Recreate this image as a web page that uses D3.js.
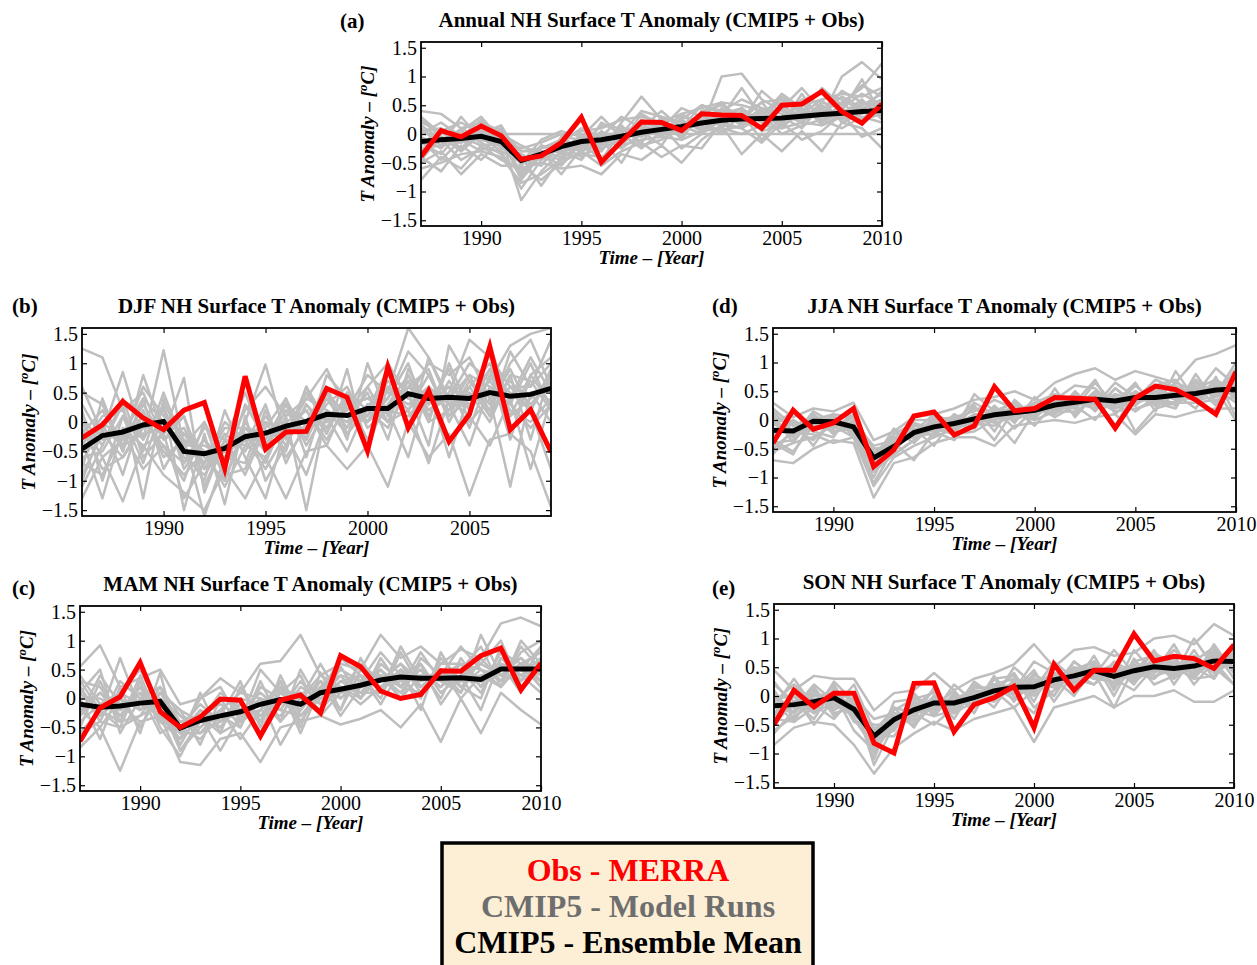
<!DOCTYPE html>
<html lang="en">
<head>
<meta charset="UTF-8">
<script src="https://d3js.org/d3.v7.min.js"></script>
<title>NH Surface T Anomaly (CMIP5 + Obs)</title>
<style>
    body { margin: 0; background: #fff; }
    svg text { font-family: "Liberation Serif", "Times New Roman", serif; fill: #000; }
    .tick text { font-size: 20px; }
    .tick line { stroke: #000; stroke-width: 1.2px; }
    .title { font-size: 21px; font-weight: bold; }
    .axlabel { font-size: 19px; font-weight: bold; font-style: italic; }
    .legend text { font-size: 32px; font-weight: bold; }
</style>
</head>
<body>
<div id="chart"></div>
<script>
// ---- data ----
const yearsMain = [1987,1988,1989,1990,1991,1992,1993,1994,1995,1996,1997,1998,1999,2000,2001,2002,2003,2004,2005,2006,2007,2008,2009,2010];
const yearsDJF  = [1986,1987,1988,1989,1990,1991,1992,1993,1994,1995,1996,1997,1998,1999,2000,2001,2002,2003,2004,2005,2006,2007,2008,2009];
const yTicks = [-1.5,-1,-0.5,0,0.5,1,1.5];
const xTicksMain = [1990,1995,2000,2005,2010];
const xTicksDJF = [1990,1995,2000,2005];

// (a) annual
const obsAnnual  = [-0.39,0.06,-0.05,0.14,-0.03,-0.44,-0.38,-0.15,0.29,-0.49,-0.13,0.21,0.20,0.06,0.35,0.33,0.32,0.10,0.50,0.52,0.74,0.39,0.19,0.52];
const meanAnnual = [-0.13,-0.10,-0.08,-0.04,-0.13,-0.46,-0.35,-0.22,-0.13,-0.10,-0.04,0.03,0.08,0.13,0.19,0.24,0.26,0.27,0.28,0.31,0.34,0.36,0.39,0.41];
const runsAnnual = [
    [0.40,0.35,0.10,0.20,0.05,-0.30,-0.25,-0.10,0.05,0.10,0.25,0.30,0.20,0.35,0.45,0.55,0.50,0.40,0.55,0.50,0.60,0.70,0.65,0.80],
    [-0.60,-0.50,-0.35,-0.30,-0.40,-0.85,-0.70,-0.45,-0.35,-0.40,-0.20,-0.10,-0.05,-0.10,0.05,0.10,0.00,0.15,0.10,0.20,0.15,0.30,0.25,0.35],
    [-0.20,0.10,-0.15,0.15,-0.05,-1.15,-0.65,-0.30,-0.20,0.15,0.10,-0.15,0.30,0.20,0.10,1.00,1.05,0.60,0.40,0.25,0.55,0.45,0.70,0.50],
    [0.10,-0.20,0.30,-0.10,-0.20,-0.40,-0.90,-0.40,0.00,-0.30,0.20,0.65,0.25,-0.05,0.40,0.30,0.80,0.30,0.70,0.45,0.30,1.00,1.25,0.95],
    [-0.80,-0.40,-0.60,-0.20,-0.45,-0.60,-0.50,-0.60,-0.55,-0.70,-0.35,-0.45,-0.20,-0.50,-0.10,0.15,-0.35,0.00,-0.30,0.05,-0.30,0.20,0.10,-0.25],
    [-0.40,-0.65,-0.20,-0.45,-0.10,-0.75,-0.30,-0.70,-0.25,-0.10,-0.50,0.05,-0.20,0.30,0.20,0.00,0.35,-0.10,0.30,0.10,0.50,0.25,0.45,0.60],
    [0.20,0.05,0.20,0.00,0.10,-0.50,-0.10,0.05,-0.05,0.30,-0.05,0.25,0.10,0.45,0.30,0.55,0.20,0.75,0.45,0.80,0.40,0.55,0.80,1.23],
    [-0.30,-0.10,-0.45,-0.25,-0.30,-0.95,-0.45,-0.20,-0.40,-0.20,0.00,-0.25,0.05,0.05,0.20,0.05,0.15,0.35,0.00,0.15,0.25,0.10,0.30,0.20],
    [0.00,0.20,-0.05,0.25,-0.20,-0.35,-0.55,-0.15,0.10,-0.05,0.30,0.10,0.40,0.10,0.50,0.40,0.60,0.45,0.20,0.60,0.70,0.60,0.40,0.75],
    [-0.50,-0.30,-0.70,-0.35,-0.55,-0.55,-0.80,-0.50,-0.30,-0.55,-0.30,-0.15,-0.40,-0.20,-0.25,0.20,0.10,-0.15,0.20,-0.10,0.05,0.35,-0.05,0.10],
    [0,0,0,0,0,0,0,0,0,0,0,0,0,0,0,0,0,0,0,0,0,0,0,0],
    [0.25,-0.05,-0.30,0.05,0.00,-0.20,-0.35,-0.55,-0.15,-0.45,0.05,0.15,0.05,0.25,0.50,0.35,0.45,0.20,0.65,0.40,0.35,0.75,0.55,0.45],
    [-0.15,-0.35,0.05,-0.15,-0.35,-0.70,-0.20,-0.30,-0.45,0.00,-0.15,0.35,0.15,-0.25,0.00,0.45,0.25,0.55,0.15,0.70,0.20,0.40,0.95,0.30],
    [-0.05,-0.25,0.10,-0.10,0.05,-0.55,-0.20,-0.35,0.00,-0.20,0.10,-0.05,0.20,0.05,0.30,0.15,0.40,0.20,0.45,0.25,0.50,0.30,0.55,0.35],
    [-0.35,0.05,-0.25,0.10,-0.25,-0.40,-0.45,-0.10,-0.25,0.05,-0.20,0.15,-0.05,0.25,0.05,0.35,0.15,0.40,0.10,0.45,0.20,0.55,0.25,0.60],
    [0.15,-0.10,-0.05,-0.20,-0.15,-0.65,-0.40,-0.25,-0.05,-0.25,-0.10,0.20,0.10,0.05,0.25,0.30,0.20,0.45,0.35,0.20,0.45,0.25,0.50,0.70],
    [-0.25,-0.20,0.00,0.05,-0.10,-0.30,-0.30,-0.40,-0.20,0.00,0.00,-0.05,0.25,0.20,0.10,0.20,0.35,0.10,0.30,0.40,0.25,0.45,0.20,0.40],
    [-0.45,-0.05,-0.15,-0.05,-0.30,-0.50,-0.25,-0.15,-0.30,-0.15,0.05,0.10,0.00,0.35,0.15,0.40,0.30,0.25,0.50,0.30,0.40,0.65,0.45,0.55],
    [0.05,0.10,-0.30,0.00,0.15,-0.45,-0.55,-0.05,-0.10,-0.05,-0.25,0.00,0.15,0.00,0.35,0.15,0.10,0.30,0.25,0.55,0.15,0.35,0.60,0.25],
    [-0.10,-0.45,-0.10,-0.30,-0.05,-0.80,-0.35,-0.45,-0.15,-0.30,0.15,-0.20,-0.10,0.15,0.00,0.25,0.45,0.05,0.15,0.35,0.60,0.20,0.35,0.50],
    [0.30,0.00,0.05,0.30,-0.10,-0.25,-0.15,0.00,-0.35,0.20,0.00,0.40,0.30,-0.10,0.40,0.50,0.30,0.55,0.60,0.35,0.80,0.50,0.85,0.65]
];

// (b) DJF
const obsDJF  = [-0.27,-0.05,0.35,0.07,-0.13,0.20,0.33,-0.79,0.78,-0.46,-0.17,-0.16,0.57,0.42,-0.49,0.94,-0.10,0.53,-0.33,0.13,1.28,-0.13,0.21,-0.51];
const meanDJF = [-0.46,-0.23,-0.17,-0.05,0.01,-0.50,-0.54,-0.45,-0.25,-0.19,-0.07,0.01,0.13,0.11,0.23,0.23,0.48,0.40,0.42,0.40,0.50,0.44,0.47,0.57];
const runsDJF = [
    [1.25,1.10,0.20,0.50,-0.30,0.10,-0.80,-0.50,0.20,0.60,0.10,0.40,0.90,0.20,0.80,0.50,1.60,1.10,0.40,1.00,0.70,1.30,1.50,1.60],
    [-1.30,-0.60,-1.35,-0.40,-0.90,-1.20,-1.50,-0.80,-1.30,-0.60,-1.30,-0.50,-0.40,-0.80,-0.40,-1.10,0.00,-0.60,-0.20,-1.25,-0.30,-0.20,-0.50,-1.45],
    [0.60,-0.20,0.85,-0.30,1.22,-0.40,0.00,-1.00,0.00,0.98,-0.30,0.60,-0.20,0.50,0.20,0.90,-0.10,1.10,0.30,0.60,0.10,1.20,0.60,1.40],
    [-0.80,0.40,-0.50,0.80,-0.20,0.75,-1.20,-0.30,-0.90,-0.10,0.40,-0.60,0.50,-0.30,1.00,0.10,0.70,0.00,1.00,0.20,1.30,0.30,1.00,0.20],
    [0.20,-1.00,0.10,-0.70,0.30,-1.50,-0.20,-1.40,0.10,-1.00,-0.40,0.30,-0.20,0.90,-0.50,0.60,0.20,0.60,-0.60,0.50,0.00,0.80,-0.30,0.90],
    [-0.50,0.00,-0.90,0.20,-0.60,-0.30,-1.60,-0.60,-0.20,-0.70,0.10,-1.50,0.20,0.00,0.50,-0.30,0.90,0.30,0.60,-0.10,0.80,0.50,0.20,-0.80],
    [-1.10,-0.40,0.30,-1.30,0.40,-0.50,-1.00,0.20,-0.60,-1.30,-0.10,0.20,-0.40,0.40,0.10,0.80,0.50,-0.40,1.30,0.70,0.20,1.00,1.40,0.60],
    [0.00,-0.60,-0.30,0.10,-0.50,-0.90,-0.50,-1.10,-0.40,0.30,-0.70,0.00,0.60,-0.20,0.30,0.40,1.20,0.80,0.10,0.40,0.90,-0.30,0.80,1.10],
    [-0.30,-1.30,-0.10,-0.40,-0.20,0.10,-1.10,-0.30,0.50,-0.40,0.20,-0.20,0.30,0.60,-0.10,0.20,-0.60,0.60,0.30,-0.40,0.60,0.30,-0.10,0.30],
    [-0.90,-0.20,-0.60,-0.10,0.20,-0.70,-0.30,-0.90,-0.80,0.00,-0.50,0.60,0.00,0.20,0.60,1.00,0.40,1.00,0.80,1.10,0.40,-1.10,0.50,0.00],
    [0.50,0.30,-0.50,0.40,-0.80,-0.20,-0.70,-0.10,-0.10,-0.50,0.40,-0.30,0.80,0.40,0.00,0.30,0.80,0.20,0.50,1.40,1.10,0.60,0.20,0.80],
    [-0.70,-0.90,-0.20,-0.80,-0.40,-1.00,0.00,-0.70,-0.30,-0.80,-0.20,-0.90,0.10,-0.50,0.30,0.00,0.20,-0.70,0.40,0.10,-0.40,0.40,-0.80,0.40],
    [-0.20,0.20,-0.40,0.30,-0.30,-0.10,-0.80,-0.20,-0.50,0.10,-0.40,0.30,-0.10,0.50,0.00,0.60,0.20,0.80,0.10,0.70,0.30,0.90,0.20,0.90],
    [-0.60,-0.50,0.10,-0.30,0.30,-0.80,-0.30,-0.70,0.00,-0.50,0.20,-0.30,0.40,-0.10,0.60,0.00,0.80,0.10,0.70,0.20,0.90,0.10,0.80,0.30],
    [0.30,-0.30,-0.20,0.40,0.00,-0.60,-0.90,-0.40,-0.20,-0.30,0.30,0.00,0.10,0.30,0.40,0.50,0.30,0.60,0.20,0.80,0.60,0.40,1.10,0.50],
    [-1.00,-0.10,-0.40,-0.20,-0.10,-0.30,-0.60,-1.00,-0.10,-0.20,-0.20,0.40,0.20,-0.20,0.20,-0.10,0.60,0.30,0.90,0.00,0.40,0.70,0.30,0.70],
    [-0.40,0.10,0.20,-0.50,0.50,-0.40,-0.40,-0.60,-0.70,0.20,-0.60,-0.10,0.50,0.10,0.00,0.40,1.00,0.00,0.20,0.50,0.20,0.60,0.60,1.00],
    [-0.10,-0.80,-0.60,0.00,-0.40,-0.70,-0.10,-0.30,-0.40,-0.60,0.00,0.20,-0.30,0.30,0.40,0.20,0.10,0.50,0.60,0.30,0.70,0.20,0.00,0.40],
    [-0.70,0.00,-0.30,0.60,0.10,-0.20,-0.50,-0.80,0.30,-0.30,0.30,-0.40,0.20,0.00,0.10,0.70,0.40,0.20,0.40,0.80,0.10,0.80,0.70,0.20],
    [0.10,-0.40,0.40,-0.60,-0.20,-1.30,-0.70,0.00,-0.30,0.00,-0.20,0.50,0.00,0.40,-0.30,0.30,0.60,0.90,0.00,0.60,1.00,0.10,0.40,0.70]
];

// (d) JJA
const obsJJA  = [-0.40,0.17,-0.16,-0.05,0.20,-0.81,-0.52,0.07,0.14,-0.26,-0.10,0.58,0.16,0.20,0.39,0.38,0.36,-0.14,0.38,0.59,0.53,0.35,0.10,0.84];
const meanJJA = [-0.18,-0.19,-0.02,-0.03,-0.12,-0.66,-0.46,-0.22,-0.12,-0.06,0.02,0.09,0.13,0.17,0.26,0.31,0.36,0.33,0.39,0.39,0.43,0.46,0.52,0.54];
const runsJJA = [
    [0.30,0.05,0.20,0.15,0.30,-0.35,-0.20,0.05,0.10,0.20,0.35,0.40,0.50,0.35,0.65,0.80,0.90,0.70,0.85,0.75,0.65,1.05,1.15,1.30],
    [-0.70,-0.75,-0.50,-0.35,-0.40,-1.35,-0.75,-0.65,-0.40,-0.30,-0.30,-0.45,-0.10,-0.05,0.00,-0.05,0.05,0.10,-0.25,0.10,0.05,0.15,0.20,0.20],
    [-0.20,0.00,-0.45,0.05,-0.20,-1.00,-0.30,-0.30,0.05,-0.15,0.25,-0.20,0.35,0.05,0.40,0.20,0.65,0.25,0.60,0.30,0.20,0.80,0.30,0.70],
    [0.10,-0.40,0.10,-0.25,0.00,-0.50,-0.55,-0.05,-0.30,0.10,-0.10,0.25,-0.05,0.40,0.10,0.50,0.15,0.55,0.25,0.60,0.70,0.30,0.60,0.40],
    [-0.50,-0.20,-0.25,-0.40,-0.30,-0.80,-0.40,-0.70,-0.20,-0.35,0.05,-0.35,0.20,-0.10,0.30,0.10,0.40,-0.10,0.50,0.25,0.45,0.20,0.75,0.05],
    [0.20,-0.10,0.00,0.10,-0.30,-0.60,-0.25,-0.20,0.10,-0.05,0.30,0.10,0.05,0.30,0.45,0.35,0.25,0.65,0.40,0.55,0.35,0.70,0.45,1.00],
    [-0.35,-0.55,-0.10,-0.15,0.10,-0.90,-0.60,-0.35,-0.15,-0.25,-0.20,0.00,-0.40,0.15,0.20,0.45,0.30,0.40,0.15,0.40,0.50,0.35,0.55,-0.02],
    [0.00,-0.30,0.15,-0.05,-0.05,-0.45,-0.35,0.00,0.00,0.05,0.15,0.35,0.20,0.10,0.35,0.60,0.55,0.20,0.35,0.70,0.55,0.45,0.90,0.60],
    [-0.60,-0.15,-0.35,0.00,-0.20,-1.10,-0.50,-0.15,-0.45,0.05,-0.05,-0.10,0.15,0.25,0.05,0.25,0.00,0.45,-0.20,0.20,0.30,0.60,0.25,0.80],
    [-0.10,0.15,-0.20,-0.30,0.20,-0.70,-0.15,-0.40,-0.05,-0.20,0.45,0.15,0.30,0.00,0.55,0.05,0.45,0.30,0.65,0.15,0.85,0.35,0.40,0.55],
    [-0.40,-0.60,0.05,-0.20,-0.10,-0.85,-0.45,-0.25,-0.25,0.00,-0.15,0.20,-0.15,0.20,0.25,0.30,0.70,0.10,0.45,0.45,0.25,0.55,0.70,0.35],
    [-0.05,-0.30,0.10,-0.15,0.05,-0.75,-0.35,-0.30,0.00,-0.15,0.10,0.00,0.25,0.10,0.35,0.25,0.45,0.25,0.50,0.30,0.55,0.40,0.65,0.45],
    [-0.30,-0.05,-0.10,0.05,-0.20,-0.55,-0.55,-0.15,-0.20,0.05,-0.05,0.20,0.05,0.25,0.15,0.40,0.30,0.40,0.30,0.50,0.35,0.55,0.45,0.65],
    [-0.15,-0.25,-0.15,-0.10,-0.05,-0.90,-0.40,-0.10,-0.15,-0.10,0.10,0.05,0.15,0.30,0.20,0.25,0.40,0.35,0.45,0.25,0.45,0.50,0.60,0.70],
    [0.05,-0.10,0.05,0.00,-0.25,-0.60,-0.30,-0.25,-0.05,0.00,0.00,0.15,0.20,0.05,0.30,0.40,0.25,0.45,0.35,0.45,0.60,0.40,0.50,0.45],
    [-0.40,-0.35,-0.05,-0.20,-0.15,-0.70,-0.60,-0.35,-0.10,-0.20,0.05,-0.05,0.05,0.20,0.10,0.35,0.40,0.20,0.40,0.35,0.30,0.65,0.40,0.90],
    [-0.25,0.00,-0.20,0.10,0.05,-0.50,-0.45,-0.20,-0.25,0.10,-0.10,0.15,0.30,0.10,0.25,0.20,0.50,0.30,0.25,0.55,0.40,0.35,0.70,0.50],
    [0.15,-0.20,0.00,-0.05,-0.10,-0.80,-0.25,-0.05,-0.15,-0.05,0.20,0.10,0.00,0.15,0.40,0.30,0.20,0.55,0.30,0.40,0.65,0.50,0.55,0.30],
    [-0.55,-0.40,-0.30,-0.10,-0.30,-1.15,-0.65,-0.45,-0.30,-0.15,-0.05,0.00,0.10,0.00,0.15,0.15,0.35,0.15,0.20,0.30,0.30,0.30,0.35,0.40]
];

// (c) MAM
const obsMAM  = [-0.74,-0.16,0.03,0.62,-0.23,-0.50,-0.32,-0.01,-0.03,-0.65,-0.03,0.06,-0.25,0.74,0.55,0.13,0.00,0.07,0.48,0.47,0.74,0.87,0.15,0.61];
const meanMAM = [-0.10,-0.15,-0.13,-0.08,-0.05,-0.51,-0.38,-0.30,-0.23,-0.10,-0.02,-0.10,0.10,0.16,0.23,0.32,0.37,0.35,0.35,0.36,0.33,0.51,0.51,0.51];
const runsMAM = [
    [0.55,0.92,0.20,0.35,0.50,-0.10,0.00,0.35,0.10,0.60,0.65,1.10,0.40,0.60,0.50,1.10,0.70,0.90,0.60,0.85,0.70,1.30,1.40,1.25],
    [-0.85,-0.50,-1.25,-0.40,-0.30,-1.10,-1.15,-0.70,-0.60,-1.10,-0.50,-0.40,-0.30,-0.45,-0.35,-0.20,-0.50,-0.10,-0.75,0.00,-0.60,0.10,-0.20,-0.45],
    [0.20,-0.30,0.70,-0.20,0.10,-0.20,-0.80,0.00,-0.50,0.30,-0.40,0.50,-0.10,0.55,0.00,0.70,0.20,0.80,0.30,0.50,0.90,0.20,1.00,0.60],
    [-0.50,0.30,-0.40,0.40,-0.40,-0.70,0.10,-0.60,0.20,-0.40,0.30,-0.50,0.45,-0.20,0.70,0.10,0.90,0.30,0.50,0.10,1.10,0.40,0.60,0.20],
    [0.00,-0.70,0.20,-0.60,0.45,-0.90,-0.50,-0.20,-0.70,-0.20,-0.30,0.20,0.00,0.30,0.40,-0.10,0.50,-0.20,0.80,0.20,0.00,0.90,0.30,0.90],
    [-0.30,0.10,-0.20,0.10,-0.60,-0.40,-0.30,-0.90,-0.30,0.00,-0.80,-0.20,0.30,-0.30,0.20,0.50,0.00,0.40,0.20,0.60,0.30,0.60,0.10,0.70],
    [0.40,-0.10,0.10,0.50,-0.20,-0.60,0.00,0.20,-0.40,0.50,0.10,0.40,-0.30,0.10,0.60,0.30,0.60,0.10,0.40,0.90,0.50,0.30,0.80,1.00],
    [-0.60,-0.40,-0.50,-0.30,0.20,-0.30,-0.60,-0.40,0.00,-0.60,0.20,-0.60,0.20,0.40,0.00,0.40,0.10,0.60,-0.10,0.40,-0.20,0.70,0.40,0.10],
    [0.10,0.50,-0.60,0.00,-0.10,-0.80,-0.20,-0.50,-0.10,-0.30,0.00,0.00,0.60,0.00,0.30,0.80,0.40,0.00,0.70,0.30,0.60,1.00,0.20,0.50],
    [-0.20,-0.50,0.00,-0.50,0.10,-0.20,-0.40,0.10,-0.20,0.10,-0.20,0.30,-0.10,0.20,-0.10,0.20,0.30,0.50,0.00,0.70,0.20,0.50,0.70,0.30],
    [0.30,0.20,-0.30,0.20,-0.40,-0.50,-0.70,-0.30,0.30,-0.50,0.40,-0.30,0.10,0.70,0.40,0.00,0.80,0.20,0.50,0.00,0.40,0.20,0.60,0.80],
    [-0.20,0.10,-0.30,0.10,-0.20,-0.60,-0.20,-0.40,-0.10,-0.30,0.10,-0.20,0.20,0.00,0.40,0.20,0.50,0.20,0.50,0.20,0.50,0.40,0.70,0.40],
    [0.10,-0.30,0.00,-0.20,0.10,-0.40,-0.50,-0.20,-0.40,0.00,-0.10,0.10,-0.10,0.30,0.10,0.50,0.20,0.50,0.20,0.50,0.10,0.70,0.40,0.70],
    [-0.40,-0.10,0.10,-0.10,-0.30,-0.70,-0.30,-0.10,-0.30,-0.20,0.20,0.00,0.30,0.10,0.20,0.30,0.60,0.30,0.40,0.30,0.40,0.50,0.50,0.30],
    [0.00,0.00,-0.20,0.20,0.00,-0.30,-0.40,-0.50,0.00,-0.10,-0.20,-0.30,0.00,0.40,0.30,0.20,0.40,0.60,0.10,0.40,0.60,0.40,0.30,0.60],
    [-0.60,-0.20,-0.40,-0.30,-0.10,-0.90,-0.40,-0.30,-0.50,0.20,0.00,-0.10,0.20,-0.20,0.50,0.40,0.20,0.10,0.60,0.60,0.20,0.80,0.60,0.40],
    [0.20,-0.40,0.30,0.00,0.20,-0.50,-0.10,-0.40,-0.20,-0.40,0.10,0.10,-0.20,0.20,0.00,0.60,0.30,0.40,0.30,0.10,0.70,0.30,0.90,0.50],
    [-0.30,0.40,-0.10,-0.40,-0.30,-0.60,-0.60,-0.20,0.10,0.00,-0.40,0.00,0.40,0.20,0.10,0.10,0.50,0.20,0.50,0.30,0.30,0.60,0.50,0.90],
    [0.30,-0.20,-0.50,0.30,-0.50,-1.00,-0.30,-0.60,-0.40,-0.20,0.30,-0.40,0.10,0.50,0.30,0.40,0.00,0.70,0.40,0.60,0.50,0.20,0.60,0.20]
];

// (e) SON
const obsSON  = [-0.50,0.10,-0.19,0.05,0.05,-0.82,-0.99,0.22,0.23,-0.62,-0.15,-0.03,0.17,-0.55,0.55,0.10,0.45,0.45,1.08,0.61,0.69,0.65,0.48,0.89];
const meanSON = [-0.17,-0.15,-0.10,-0.03,-0.23,-0.70,-0.41,-0.24,-0.12,-0.12,-0.03,0.09,0.15,0.16,0.28,0.35,0.44,0.34,0.44,0.51,0.48,0.52,0.61,0.60];
const runsSON = [
    [0.45,0.10,0.35,0.30,0.30,-0.25,0.05,0.10,0.40,0.10,0.30,0.40,0.55,0.90,0.50,0.80,0.85,0.70,0.75,1.00,1.05,0.90,1.25,1.05],
    [-0.85,-0.55,-0.45,-0.50,-0.85,-1.35,-0.90,-0.65,-0.45,-0.60,-0.40,-0.30,-0.20,-0.80,-0.20,-0.10,0.00,-0.20,0.00,0.00,0.10,-0.10,-0.10,0.10],
    [-0.20,0.30,-0.20,0.10,-0.40,-0.90,-0.30,-0.40,0.15,-0.30,0.20,0.05,0.40,-0.10,0.55,0.20,0.70,0.10,0.80,0.40,0.90,0.30,0.70,0.50],
    [0.10,-0.40,0.05,-0.20,0.20,-0.60,-0.60,0.00,-0.20,-0.05,-0.20,0.35,-0.10,0.40,0.00,0.60,0.30,0.50,0.20,0.70,0.30,0.80,0.30,0.90],
    [-0.50,-0.10,-0.30,0.25,-0.10,-1.10,-0.20,-0.55,0.00,-0.30,0.10,-0.20,0.30,0.20,0.20,0.40,0.20,0.60,0.40,0.30,0.60,0.40,0.80,0.30],
    [0.25,-0.20,0.20,-0.10,-0.35,-0.50,-0.50,-0.10,-0.30,0.20,-0.10,0.20,0.10,0.60,0.40,0.10,0.60,0.20,0.60,0.70,0.40,0.60,0.50,0.70],
    [-0.35,0.00,-0.50,-0.05,-0.10,-0.80,-0.40,-0.30,-0.50,-0.20,0.00,-0.10,0.20,0.30,0.00,0.50,0.40,-0.20,0.50,0.30,0.70,0.20,0.60,0.20],
    [0.00,-0.30,0.15,-0.30,-0.20,-0.70,-0.70,-0.20,0.10,-0.40,0.15,0.10,-0.20,0.10,0.60,0.30,0.20,0.50,0.30,0.80,0.20,0.70,0.40,0.60],
    [-0.65,-0.25,0.00,0.05,-0.60,-0.95,-0.10,-0.05,-0.20,0.10,-0.30,0.30,0.00,-0.30,0.30,0.00,0.50,0.30,0.10,0.50,0.50,0.30,0.90,0.40],
    [-0.10,0.20,-0.15,-0.40,0.00,-0.40,-0.30,-0.45,-0.10,-0.15,0.05,-0.05,0.50,0.20,0.15,0.60,0.35,0.80,0.40,0.45,0.80,0.50,0.30,0.80],
    [-0.40,-0.45,-0.20,0.20,-0.40,-0.65,-0.55,0.05,-0.35,-0.25,0.25,0.00,0.10,0.45,-0.10,0.40,0.60,0.00,0.65,0.20,0.35,1.00,0.50,0.20],
    [-0.30,0.05,-0.25,0.10,-0.10,-0.80,-0.30,-0.35,0.00,-0.25,0.05,0.00,0.25,0.05,0.40,0.25,0.55,0.20,0.60,0.40,0.60,0.40,0.75,0.50],
    [0.05,-0.30,0.05,-0.15,-0.35,-0.55,-0.55,-0.10,-0.25,0.00,-0.15,0.20,0.05,0.30,0.15,0.45,0.30,0.50,0.30,0.60,0.35,0.65,0.45,0.75],
    [-0.20,-0.20,-0.05,0.00,-0.15,-1.00,-0.45,-0.20,-0.05,-0.20,0.00,0.15,0.20,0.00,0.30,0.40,0.35,0.40,0.50,0.45,0.55,0.55,0.55,0.65],
    [-0.05,0.00,-0.30,-0.10,-0.30,-0.65,-0.20,-0.30,-0.20,-0.05,0.10,0.05,0.05,0.25,0.20,0.30,0.55,0.30,0.35,0.65,0.40,0.45,0.70,0.45],
    [-0.60,-0.35,-0.15,0.10,-0.25,-0.75,-0.60,-0.15,-0.10,-0.30,-0.10,0.20,0.30,0.10,0.35,0.20,0.45,0.45,0.25,0.50,0.65,0.35,0.60,0.85],
    [0.20,-0.10,0.10,-0.25,0.00,-0.85,-0.35,-0.50,-0.15,-0.05,-0.05,0.00,0.15,0.35,0.25,0.50,0.30,0.25,0.55,0.35,0.45,0.70,0.45,0.60],
    [-0.40,-0.10,-0.40,0.15,-0.45,-0.60,-0.25,-0.05,0.05,-0.15,0.15,0.15,-0.05,0.20,0.40,0.30,0.40,0.55,0.35,0.55,0.30,0.60,0.85,0.40],
    [-0.10,-0.45,0.15,-0.35,-0.05,-1.20,-0.50,-0.25,-0.35,0.05,-0.20,0.30,0.35,-0.20,0.10,0.45,0.60,0.15,0.45,0.75,0.55,0.30,0.35,0.75]
];

const legendItems = ["Obs - MERRA", "CMIP5 - Model Runs", "CMIP5 - Ensemble Mean"];
const legendColors = ["#ff0000", "#6e6e6e", "#000000"];

// ---- layout ----
const width = 1257, height = 965;
const panels = [
    {tag: "(a)", title: "Annual NH Surface T Anomaly (CMIP5 + Obs)", years: yearsMain, xticks: xTicksMain,
     obs: obsAnnual, mean: meanAnnual, runs: runsAnnual, x0: 421, y0: 42, x1: 882, y1: 226, tagX: 340, tagY: 28},
    {tag: "(b)", title: "DJF NH Surface T Anomaly (CMIP5 + Obs)", years: yearsDJF, xticks: xTicksDJF,
     obs: obsDJF, mean: meanDJF, runs: runsDJF, x0: 82, y0: 328, x1: 551, y1: 516, tagX: 12, tagY: 313},
    {tag: "(d)", title: "JJA NH Surface T Anomaly (CMIP5 + Obs)", years: yearsMain, xticks: xTicksMain,
     obs: obsJJA, mean: meanJJA, runs: runsJJA, x0: 773, y0: 328, x1: 1236, y1: 512, tagX: 712, tagY: 313},
    {tag: "(c)", title: "MAM NH Surface T Anomaly (CMIP5 + Obs)", years: yearsMain, xticks: xTicksMain,
     obs: obsMAM, mean: meanMAM, runs: runsMAM, x0: 80, y0: 606, x1: 541, y1: 791, tagX: 12, tagY: 595},
    {tag: "(e)", title: "SON NH Surface T Anomaly (CMIP5 + Obs)", years: yearsMain, xticks: xTicksMain,
     obs: obsSON, mean: meanSON, runs: runsSON, x0: 774, y0: 604, x1: 1234, y1: 788, tagX: 712, tagY: 595}
];

const svg = d3.select("#chart").append("svg")
    .attr("width", width)
    .attr("height", height);

svg.append("rect").attr("width", width).attr("height", height).attr("fill", "#fff");

panels.forEach((p, i) => {
    const x = d3.scaleLinear()
        .domain([p.years[0], p.years[p.years.length - 1]])
        .range([p.x0, p.x1]);
    const y = d3.scaleLinear()
        .domain([-1.6, 1.6])
        .range([p.y1, p.y0]);

    const g = svg.append("g");

    g.append("clipPath").attr("id", "clip" + i)
        .append("rect")
        .attr("x", p.x0).attr("y", p.y0)
        .attr("width", p.x1 - p.x0).attr("height", p.y1 - p.y0);

    const line = d3.line()
        .x((d, j) => x(p.years[j]))
        .y(d => y(d));

    const plot = g.append("g").attr("clip-path", "url(#clip" + i + ")");

    plot.selectAll("path.run")
        .data(p.runs)
        .enter()
        .append("path")
        .attr("class", "run")
        .attr("d", line)
        .attr("fill", "none")
        .attr("stroke", "#bebebe")
        .attr("stroke-width", 2.5)
        .attr("stroke-linejoin", "round");

    plot.append("path")
        .attr("d", line(p.mean))
        .attr("fill", "none")
        .attr("stroke", "#000")
        .attr("stroke-width", 5);

    plot.append("path")
        .attr("d", line(p.obs))
        .attr("fill", "none")
        .attr("stroke", "#ff0000")
        .attr("stroke-width", 5);

    // axes, ticks inside the box like matlab
    const fmt = d3.format("");
    g.append("g")
        .attr("transform", `translate(${p.x0},0)`)
        .call(d3.axisLeft(y).tickValues(yTicks).tickFormat(fmt).tickSizeInner(-5).tickSizeOuter(0).tickPadding(4))
        .call(a => a.select(".domain").remove());
    g.append("g")
        .attr("transform", `translate(${p.x1},0)`)
        .call(d3.axisRight(y).tickValues(yTicks).tickFormat("").tickSizeInner(-5).tickSizeOuter(0))
        .call(a => a.select(".domain").remove());
    g.append("g")
        .attr("transform", `translate(0,${p.y1})`)
        .call(d3.axisBottom(x).tickValues(p.xticks).tickFormat(fmt).tickSizeInner(-5).tickSizeOuter(0).tickPadding(5))
        .call(a => a.select(".domain").remove());
    g.append("g")
        .attr("transform", `translate(0,${p.y0})`)
        .call(d3.axisTop(x).tickValues(p.xticks).tickFormat("").tickSizeInner(-5).tickSizeOuter(0))
        .call(a => a.select(".domain").remove());

    g.selectAll(".tick text").attr("fill", "#000").style("font-family", "'Liberation Serif', serif");

    g.append("rect")
        .attr("x", p.x0).attr("y", p.y0)
        .attr("width", p.x1 - p.x0).attr("height", p.y1 - p.y0)
        .attr("fill", "none")
        .attr("stroke", "#000")
        .attr("stroke-width", 1.8);

    const cx = (p.x0 + p.x1) / 2;
    g.append("text")
        .attr("class", "title")
        .attr("x", cx).attr("y", p.y0 - 15)
        .attr("text-anchor", "middle")
        .text(p.title);
    g.append("text")
        .attr("class", "title")
        .attr("x", p.tagX).attr("y", p.tagY)
        .text(p.tag);

    g.append("text")
        .attr("class", "axlabel")
        .attr("x", cx).attr("y", p.y1 + 38)
        .attr("text-anchor", "middle")
        .text("Time \u2013 [Year]");

    const yl = g.append("text")
        .attr("class", "axlabel")
        .attr("transform", `translate(${p.x0 - 47},${(p.y0 + p.y1) / 2}) rotate(-90)`)
        .attr("text-anchor", "middle");
    yl.append("tspan").text("T Anomaly \u2013 [");
    yl.append("tspan").attr("dy", -7).style("font-size", "13px").text("o");
    yl.append("tspan").attr("dy", 7).text("C]");
});

// legend box
const leg = svg.append("g").attr("class", "legend");
leg.append("rect")
    .attr("x", 442).attr("y", 843)
    .attr("width", 371).attr("height", 140)
    .attr("fill", "#fdefd5")
    .attr("stroke", "#000")
    .attr("stroke-width", 3.5);
leg.selectAll("text")
    .data(legendItems)
    .enter()
    .append("text")
    .attr("x", 628)
    .attr("y", (d, i) => 881 + i * 36)
    .attr("text-anchor", "middle")
    .attr("fill", (d, i) => legendColors[i])
    .style("fill", (d, i) => legendColors[i])
    .text(d => d);
</script>
</body>
</html>
